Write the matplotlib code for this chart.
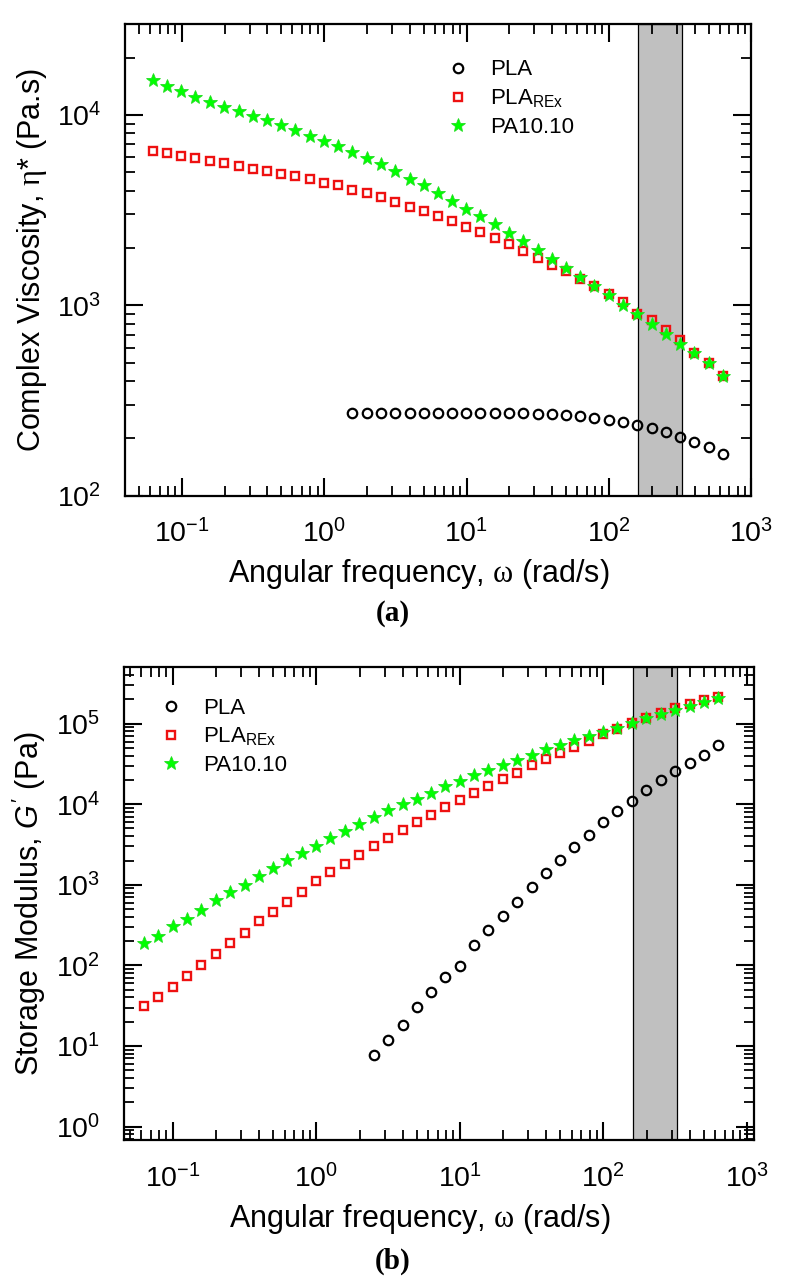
import numpy as np
import matplotlib
matplotlib.use("Agg")
import matplotlib.pyplot as plt
from matplotlib.ticker import LogLocator, NullFormatter

plt.rcParams['font.family'] = ['Liberation Sans', 'DejaVu Sans']
plt.rcParams['mathtext.fontset'] = 'custom'
plt.rcParams['mathtext.rm'] = 'Liberation Sans'
plt.rcParams['mathtext.it'] = 'Liberation Sans:italic'
plt.rcParams['mathtext.bf'] = 'Liberation Sans:bold'
plt.rcParams['mathtext.sf'] = 'Liberation Serif'
plt.rcParams['axes.unicode_minus'] = False

# angular frequency sweep (rad/s)
omega = [0.0628, 0.0791, 0.0996, 0.125, 0.158, 0.199, 0.251, 0.316, 0.398, 0.501,
         0.628, 0.791, 0.996, 1.25, 1.58, 1.99, 2.51, 3.16, 3.98, 5.01,
         6.28, 7.91, 9.96, 12.5, 15.8, 19.9, 25.1, 31.6, 39.8, 50.1,
         62.8, 79.1, 99.6, 125, 158, 199, 251, 316, 398, 501, 628]

# (a) complex viscosity (Pa.s)
eta_pla = [272, 273, 272, 272, 272, 272, 272, 272, 272, 272, 272, 271, 271, 270,
           270, 267, 262, 257, 251, 244, 235, 226, 216, 204, 192, 180, 165]
eta_rex = [6500, 6330, 6120, 5910, 5710, 5560, 5410, 5210, 5090, 4910,
           4750, 4580, 4410, 4260, 4040, 3880, 3700, 3480, 3300, 3120,
           2930, 2760, 2590, 2420, 2250, 2110, 1940, 1780, 1620, 1510,
           1380, 1260, 1150, 1040, 904, 841, 739, 655, 562, 498, 425]
eta_pa = [15240, 14250, 13400, 12460, 11740, 11050, 10530, 9900, 9410, 8860,
          8340, 7780, 7330, 6840, 6360, 5950, 5530, 5060, 4610, 4260,
          3900, 3520, 3210, 2930, 2660, 2390, 2170, 1960, 1760, 1570,
          1410, 1260, 1130, 1010, 904, 795, 711, 630, 562, 498, 425]

# (b) storage modulus (Pa)
g_pla = [7.8, 11.7, 18.3, 30.1, 46.7, 71.7, 97.2, 177, 278, 414, 607, 942, 1410,
         2060, 2960, 4200, 5980, 8190, 11100, 14900, 19900, 25700, 32700, 40300, 53600]
g_rex = [31, 40.5, 53.8, 74.5, 102, 140, 190, 252, 352, 456,
         614, 817, 1107, 1430, 1816, 2330, 3010, 3820, 4760, 5980,
         7450, 9270, 11210, 13840, 17060, 20650, 24530, 30270, 35900, 43460,
         51600, 60600, 73400, 84700, 102600, 118000, 136000, 157000, 177000, 196000, 216000]
g_pa = [190, 234, 305, 377, 483, 643, 807, 1005, 1275, 1604,
        2055, 2490, 3070, 3780, 4620, 5750, 6900, 8430, 10000, 11770,
        13840, 16740, 19310, 22920, 26430, 30480, 35200, 40600, 47800, 54100,
        62400, 69900, 79300, 88900, 102600, 116000, 130000, 147000, 165000, 187000, 210000]

band = (160, 325)
labels = ['PLA', r'$\mathregular{PLA_{REx}}$', 'PA10.10']


def style_axis(ax):
    ax.set_xscale('log')
    ax.set_yscale('log')
    ax.xaxis.set_major_locator(LogLocator(base=10, numticks=20))
    ax.yaxis.set_major_locator(LogLocator(base=10, numticks=20))
    ax.xaxis.set_minor_locator(LogLocator(base=10, subs=np.arange(2, 10), numticks=100))
    ax.yaxis.set_minor_locator(LogLocator(base=10, subs=np.arange(2, 10), numticks=100))
    ax.xaxis.set_minor_formatter(NullFormatter())
    ax.yaxis.set_minor_formatter(NullFormatter())
    ax.tick_params(which='both', direction='in', top=True, right=True, labelsize=20.5)
    ax.tick_params(which='major', length=13, width=1.5)
    ax.tick_params(which='minor', length=7, width=1.3)
    ax.tick_params(axis='x', which='major', pad=17)
    ax.tick_params(axis='y', which='major', pad=17)
    for s in ax.spines.values():
        s.set_linewidth(1.6)


def draw(ax, x_pla, y_pla, y_rex, y_pa):
    ax.axvspan(band[0], band[1], facecolor='#c0c0c0', edgecolor='black', lw=0.9, zorder=1)
    ax.plot(x_pla, y_pla, 'o', ls='none', mfc='none', mec='black', mew=1.6, ms=6.8,
            label=labels[0], zorder=3)
    ax.plot(omega, y_rex, 's', ls='none', mfc='none', mec='#ee1111', mew=1.7, ms=6.4,
            label=labels[1], zorder=4)
    ax.plot(omega, y_pa, '*', ls='none', mfc='#00ff00', mec='#22dd22', mew=0.6, ms=10.5,
            label=labels[2], zorder=5)


fig = plt.figure(figsize=(7.86, 12.86), dpi=100)

ax1 = fig.add_axes([0.159, 0.6145, 0.797, 0.3668])
style_axis(ax1)
draw(ax1, omega[14:], eta_pla, eta_rex, eta_pa)
ax1.set_xlim(0.04, 1000)
ax1.set_ylim(100, 30000)
ax1.set_xlabel('Angular frequency, $\\mathsf{\\omega}$ (rad/s)', fontsize=22)
ax1.xaxis.set_label_coords(0.469, -0.13)
ax1.set_ylabel('Complex Viscosity, $\\mathsf{\\eta}$* (Pa.s)', fontsize=22, labelpad=6)
ax1.legend(loc='upper left', bbox_to_anchor=(0.514, 0.925), frameon=False, fontsize=16,
           numpoints=1, handlelength=1.0, handletextpad=0.93, borderpad=0,
           borderaxespad=0, labelspacing=0.31)

ax2 = fig.add_axes([0.1578, 0.1135, 0.8015, 0.3676])
style_axis(ax2)
draw(ax2, omega[16:], g_pla, g_rex, g_pa)
ax2.set_xlim(0.0456, 1120)
ax2.set_ylim(0.68, 5.0e5)
ax2.set_xlabel('Angular frequency, $\\mathsf{\\omega}$ (rad/s)', fontsize=22)
ax2.xaxis.set_label_coords(0.469, -0.131)
ax2.set_ylabel("Storage Modulus, $G'$ (Pa)", fontsize=22, labelpad=6)
ax2.legend(loc='upper left', bbox_to_anchor=(0.057, 0.936), frameon=False, fontsize=16,
           numpoints=1, handlelength=1.0, handletextpad=0.93, borderpad=0,
           borderaxespad=0, labelspacing=0.31)

fig.text(0.5, 0.523, '(a)', ha='center', va='center', fontsize=21,
         family='Liberation Serif', weight='bold')
fig.text(0.5, 0.019, '(b)', ha='center', va='center', fontsize=21,
         family='Liberation Serif', weight='bold')

fig.savefig('out.png', dpi=100)
